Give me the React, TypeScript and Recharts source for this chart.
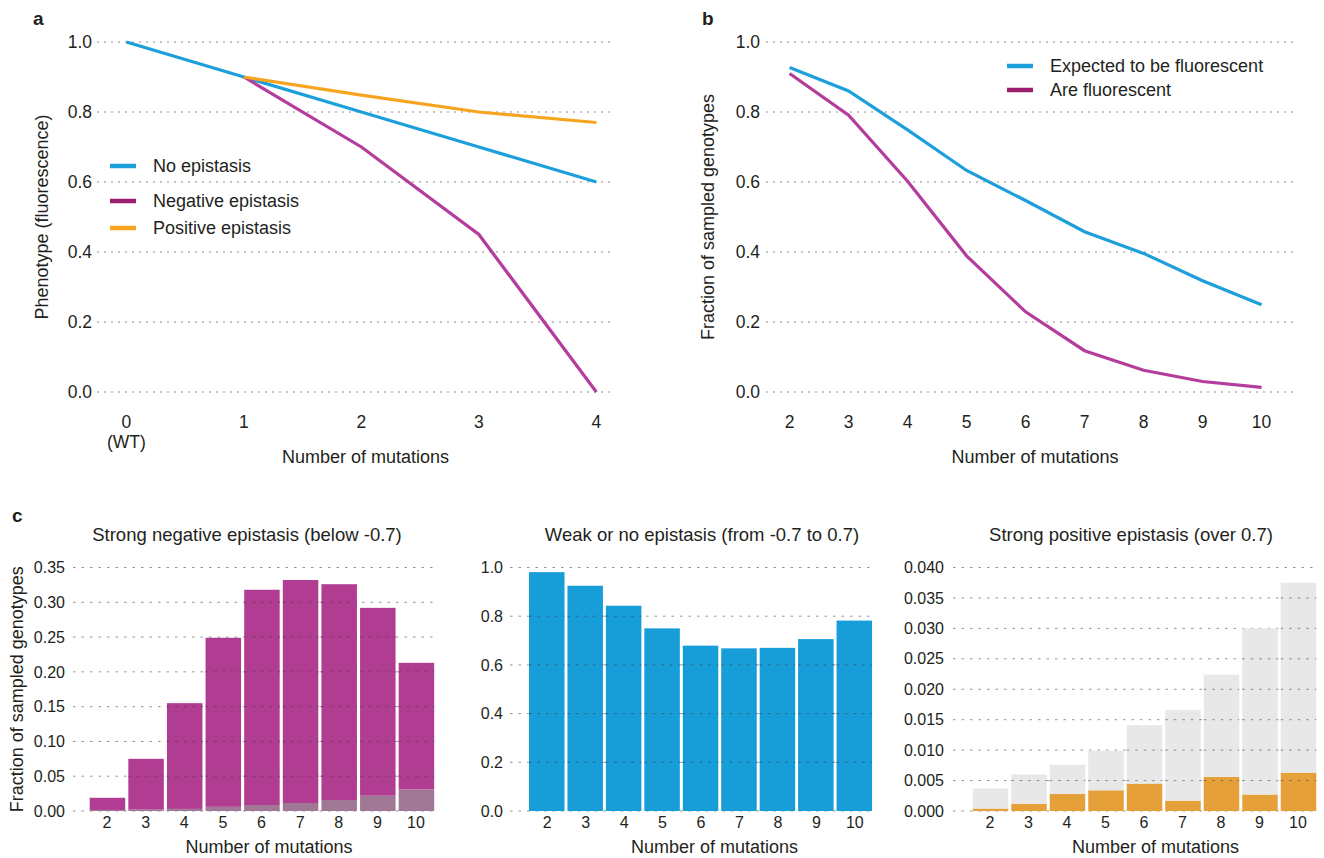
import { LineChart, Line, BarChart, Bar, XAxis, YAxis, CartesianGrid, Legend } from "recharts";

const FONT = '"Liberation Sans", Arial, Helvetica, sans-serif';
const INK = "#231f20";
const GRID = "#8c8c8c";
const GUIDE = "#3a3a3a";

const BLUE = "#1c9fdb";
const MAGENTA = "#b43c9c";
const MAGENTA_DARK = "#9b1f6e";
const ORANGE = "#f7a520";
const BAR_MAGENTA = "#b13d93";
const BAR_OVERLAY = "#a07795";
const BAR_BLUE = "#179dd8";
const BAR_ORANGE = "#e6a03a";
const BAR_GREY = "#e7e8e7";

// panel a
const mutationsA = [0, 1, 2, 3, 4];
const noEpistasis = [1.0, 0.9, 0.8, 0.7, 0.6];
const negativeEpistasis = [null, 0.9, 0.7, 0.45, 0.0];
const positiveEpistasis = [null, 0.9, 0.848, 0.8, 0.77];
const unitTicks = [0, 0.2, 0.4, 0.6, 0.8, 1.0];

// panel b
const mutationsB = [2, 3, 4, 5, 6, 7, 8, 9, 10];
const expectedFluorescent = [0.927, 0.86, 0.749, 0.633, 0.547, 0.458, 0.396, 0.318, 0.249];
const areFluorescent = [0.91, 0.791, 0.602, 0.389, 0.229, 0.118, 0.062, 0.03, 0.013];

// panel c
const mutationsC = ["2", "3", "4", "5", "6", "7", "8", "9", "10"];
const strongNegative = [0.019, 0.075, 0.155, 0.249, 0.318, 0.332, 0.326, 0.292, 0.213];
const strongNegativeGrey = [0.0015, 0.002, 0.003, 0.006, 0.0086, 0.0115, 0.0158, 0.022, 0.031];
const weakOrNone = [0.981, 0.925, 0.843, 0.75, 0.679, 0.668, 0.67, 0.706, 0.782];
const strongPositiveGrey = [0.0037, 0.006, 0.0076, 0.0099, 0.0141, 0.0166, 0.0224, 0.03, 0.0375];
const strongPositive = [0.0004, 0.0012, 0.0028, 0.0034, 0.0045, 0.0017, 0.0056, 0.0027, 0.0063];
const negTicks = [0, 0.05, 0.1, 0.15, 0.2, 0.25, 0.3, 0.35];
const posTicks = [0, 0.005, 0.01, 0.015, 0.02, 0.025, 0.03, 0.035, 0.04];

const legendOrder = ["none", "neg", "pos", "expected", "are"];

const dataA = mutationsA.map((m, i) => ({
  m,
  none: noEpistasis[i],
  neg: negativeEpistasis[i],
  pos: positiveEpistasis[i],
}));
const dataB = mutationsB.map((m, i) => ({ m, expected: expectedFluorescent[i], are: areFluorescent[i] }));
const dataNeg = mutationsC.map((m, i) => ({
  m,
  grey: strongNegativeGrey[i],
  rest: strongNegative[i] - strongNegativeGrey[i],
}));
const dataWeak = mutationsC.map((m, i) => ({ m, value: weakOrNone[i] }));
const dataPos = mutationsC.map((m, i) => ({
  m,
  observed: strongPositive[i],
  rest: strongPositiveGrey[i] - strongPositive[i],
}));

const swatch: Record<string, string> = { neg: MAGENTA_DARK, are: MAGENTA_DARK };

const tickStyle = { fill: INK, fontSize: 17.5, fontFamily: FONT };
const smallTick = { fill: INK, fontSize: 16, fontFamily: FONT };
const titleStyle = { fill: INK, fontSize: 18, fontFamily: FONT };

const MutationTick = ({ x, y, payload }: any) => (
  <g>
    <text x={x} y={y + 36} textAnchor="middle" {...tickStyle}>
      {payload.value}
    </text>
    {payload.value === 0 && (
      <text x={x} y={y + 56} textAnchor="middle" {...tickStyle}>
        (WT)
      </text>
    )}
  </g>
);

const LineKey = ({ payload, gaps }: any) => {
  const items = [...(payload || [])].sort(
    (p: any, q: any) => legendOrder.indexOf(p.dataKey) - legendOrder.indexOf(q.dataKey)
  );
  return (
    <div style={{ fontFamily: FONT, fontSize: 18, color: INK }}>
      {items.map((item: any, i: number) => (
        <div key={item.value} style={{ display: "flex", alignItems: "center", height: 22, marginTop: gaps[i] }}>
          <svg width={26} height={6}>
            <line x1={0} x2={26} y1={3} y2={3} stroke={swatch[item.dataKey] ?? item.color} strokeWidth={4.5} />
          </svg>
          <span style={{ marginLeft: 17, whiteSpace: "nowrap" }}>{item.value}</span>
        </div>
      ))}
    </div>
  );
};

// bar rectangle with the dotted guides carried across it, since the original draws its grid over the bars
const guidedBar = (ticks: number[], max: number) => (props: any) => {
  const { x, y, width, height, fill, background } = props;
  const rows = background
    ? ticks
        .map((t) => background.y + background.height * (1 - t / max))
        .filter((v) => v > y + 0.5 && v < y + height - 0.5)
    : [];
  return (
    <g>
      <rect x={x} y={y} width={width} height={height} fill={fill} />
      {rows.map((v) => (
        <line key={v} x1={x} x2={x + width} y1={v} y2={v} stroke={GUIDE} strokeOpacity={0.55} strokeDasharray="2.5 6" />
      ))}
    </g>
  );
};

const Letter = ({ text, left, top }: { text: string; left: number; top: number }) => (
  <div
    style={{ position: "absolute", left, top, fontFamily: FONT, fontWeight: 700, fontSize: 19, lineHeight: 1, color: INK }}
  >
    {text}
  </div>
);

const Title = ({ text, cx, cy }: { text: string; cx: number; cy: number }) => (
  <div
    style={{
      position: "absolute",
      left: cx,
      top: cy,
      transform: "translate(-50%, -50%)",
      fontFamily: FONT,
      fontSize: 18.5,
      lineHeight: 1,
      color: INK,
      whiteSpace: "nowrap",
    }}
  >
    {text}
  </div>
);

const box = (left: number, top: number) => ({ position: "absolute" as const, left, top });

interface BarPanelProps {
  left: number;
  width: number;
  data: any[];
  yWidth: number;
  right: number;
  pad: { left: number; right: number };
  max: number;
  ticks: number[];
  digits: number;
  tickMargin: number;
  titleDx: number;
  yTitle?: string;
  series: { key: string; fill: string }[];
}

const BarPanel = (p: BarPanelProps) => (
  <div style={box(p.left, 500)}>
    <BarChart width={p.width} height={358} data={p.data} margin={{ top: 67.5, right: p.right, left: 0, bottom: 0 }}>
      <CartesianGrid vertical={false} stroke={GUIDE} strokeOpacity={0.55} strokeDasharray="2.5 6" />
      <XAxis
        dataKey="m"
        padding={p.pad}
        axisLine={false}
        tickLine={false}
        tickSize={0}
        tickMargin={6}
        height={47}
        tick={smallTick}
        label={{ value: "Number of mutations", position: "insideBottom", offset: 5, dx: p.titleDx, style: titleStyle }}
      />
      <YAxis
        domain={[0, p.max]}
        ticks={p.ticks}
        tickFormatter={(v: number) => v.toFixed(p.digits)}
        axisLine={false}
        tickLine={false}
        tickSize={0}
        tickMargin={p.tickMargin}
        width={p.yWidth}
        tick={smallTick}
        label={
          p.yTitle
            ? {
                value: p.yTitle,
                angle: -90,
                position: "insideLeft",
                offset: 17,
                style: { ...titleStyle, textAnchor: "middle" },
              }
            : undefined
        }
      />
      {p.series.map((s) => (
        <Bar
          key={s.key}
          dataKey={s.key}
          stackId="s"
          fill={s.fill}
          barSize={35.5}
          shape={guidedBar(p.ticks, p.max)}
          isAnimationActive={false}
        />
      ))}
    </BarChart>
  </div>
);

export default function App() {
  return (
    <div style={{ position: "absolute", left: 0, top: 0, width: 1324, height: 858, background: "#fff" }}>
      <Letter text="a" left={33} top={9} />
      <Letter text="b" left={702} top={9} />
      <Letter text="c" left={12} top={506} />

      <div style={box(0, 0)}>
        <LineChart width={640} height={475} data={dataA} margin={{ top: 42, right: 26, left: 0, bottom: 0 }}>
          <CartesianGrid vertical={false} stroke={GRID} strokeDasharray="2 5" />
          <XAxis
            dataKey="m"
            type="number"
            domain={[-0.25, 4.15]}
            ticks={mutationsA}
            axisLine={false}
            tickLine={false}
            tickSize={0}
            tickMargin={0}
            height={83}
            tick={<MutationTick />}
            label={{ value: "Number of mutations", position: "insideBottom", offset: 12, dx: 10, style: titleStyle }}
          />
          <YAxis
            domain={[0, 1]}
            ticks={unitTicks}
            tickFormatter={(v: number) => v.toFixed(1)}
            axisLine={false}
            tickLine={false}
            tickSize={0}
            tickMargin={5}
            width={97}
            tick={tickStyle}
            label={{
              value: "Phenotype (fluorescence)",
              angle: -90,
              position: "insideLeft",
              offset: 42,
              style: { ...titleStyle, textAnchor: "middle" },
            }}
          />
          <Legend
            layout="vertical"
            align="center"
            verticalAlign="middle"
            wrapperStyle={{ left: 110, top: 155, width: "auto" }}
            content={(props: any) => <LineKey {...props} gaps={[0, 13, 5]} />}
          />
          <Line dataKey="none" name="No epistasis" stroke={BLUE} strokeWidth={3.2} dot={false} isAnimationActive={false} />
          <Line dataKey="neg" name="Negative epistasis" stroke={MAGENTA} strokeWidth={3.2} dot={false} isAnimationActive={false} />
          <Line dataKey="pos" name="Positive epistasis" stroke={ORANGE} strokeWidth={3.2} dot={false} isAnimationActive={false} />
        </LineChart>
      </div>

      <div style={box(660, 0)}>
        <LineChart width={660} height={475} data={dataB} margin={{ top: 42, right: 26, left: 0, bottom: 0 }}>
          <CartesianGrid vertical={false} stroke={GRID} strokeDasharray="2 5" />
          <XAxis
            dataKey="m"
            type="number"
            domain={[1.6, 10.55]}
            ticks={mutationsB}
            axisLine={false}
            tickLine={false}
            tickSize={0}
            tickMargin={0}
            height={83}
            tick={<MutationTick />}
            label={{ value: "Number of mutations", position: "insideBottom", offset: 12, dx: 5, style: titleStyle }}
          />
          <YAxis
            domain={[0, 1]}
            ticks={unitTicks}
            tickFormatter={(v: number) => v.toFixed(1)}
            axisLine={false}
            tickLine={false}
            tickSize={0}
            tickMargin={6}
            width={106}
            tick={tickStyle}
            label={{
              value: "Fraction of sampled genotypes",
              angle: -90,
              position: "insideLeft",
              offset: 48,
              style: { ...titleStyle, textAnchor: "middle" },
            }}
          />
          <Legend
            layout="vertical"
            align="center"
            verticalAlign="middle"
            wrapperStyle={{ left: 347, top: 55, width: "auto" }}
            content={(props: any) => <LineKey {...props} gaps={[0, 2]} />}
          />
          <Line dataKey="expected" name="Expected to be fluorescent" stroke={BLUE} strokeWidth={3.2} dot={false} isAnimationActive={false} />
          <Line dataKey="are" name="Are fluorescent" stroke={MAGENTA} strokeWidth={3.2} dot={false} isAnimationActive={false} />
        </LineChart>
      </div>

      <Title text="Strong negative epistasis (below -0.7)" cx={247} cy={535} />
      <Title text="Weak or no epistasis (from -0.7 to 0.7)" cx={702} cy={535} />
      <Title text="Strong positive epistasis (over 0.7)" cx={1131} cy={535} />

      <BarPanel
        left={0}
        width={450}
        data={dataNeg}
        yWidth={73}
        right={13}
        pad={{ left: 14.7, right: 1.7 }}
        max={0.35}
        ticks={negTicks}
        digits={2}
        tickMargin={8}
        titleDx={14}
        yTitle="Fraction of sampled genotypes"
        series={[
          { key: "grey", fill: BAR_OVERLAY },
          { key: "rest", fill: BAR_MAGENTA },
        ]}
      />

      <BarPanel
        left={460}
        width={420}
        data={dataWeak}
        yWidth={50}
        right={5}
        pad={{ left: 18, right: 1 }}
        max={1}
        ticks={unitTicks}
        digits={1}
        tickMargin={7}
        titleDx={22}
        series={[{ key: "value", fill: BAR_BLUE }]}
      />

      <BarPanel
        left={880}
        width={444}
        data={dataPos}
        yWidth={73}
        right={6}
        pad={{ left: 17.75, right: 0.75 }}
        max={0.04}
        ticks={posTicks}
        digits={3}
        tickMargin={9}
        titleDx={20}
        series={[
          { key: "observed", fill: BAR_ORANGE },
          { key: "rest", fill: BAR_GREY },
        ]}
      />
    </div>
  );
}
